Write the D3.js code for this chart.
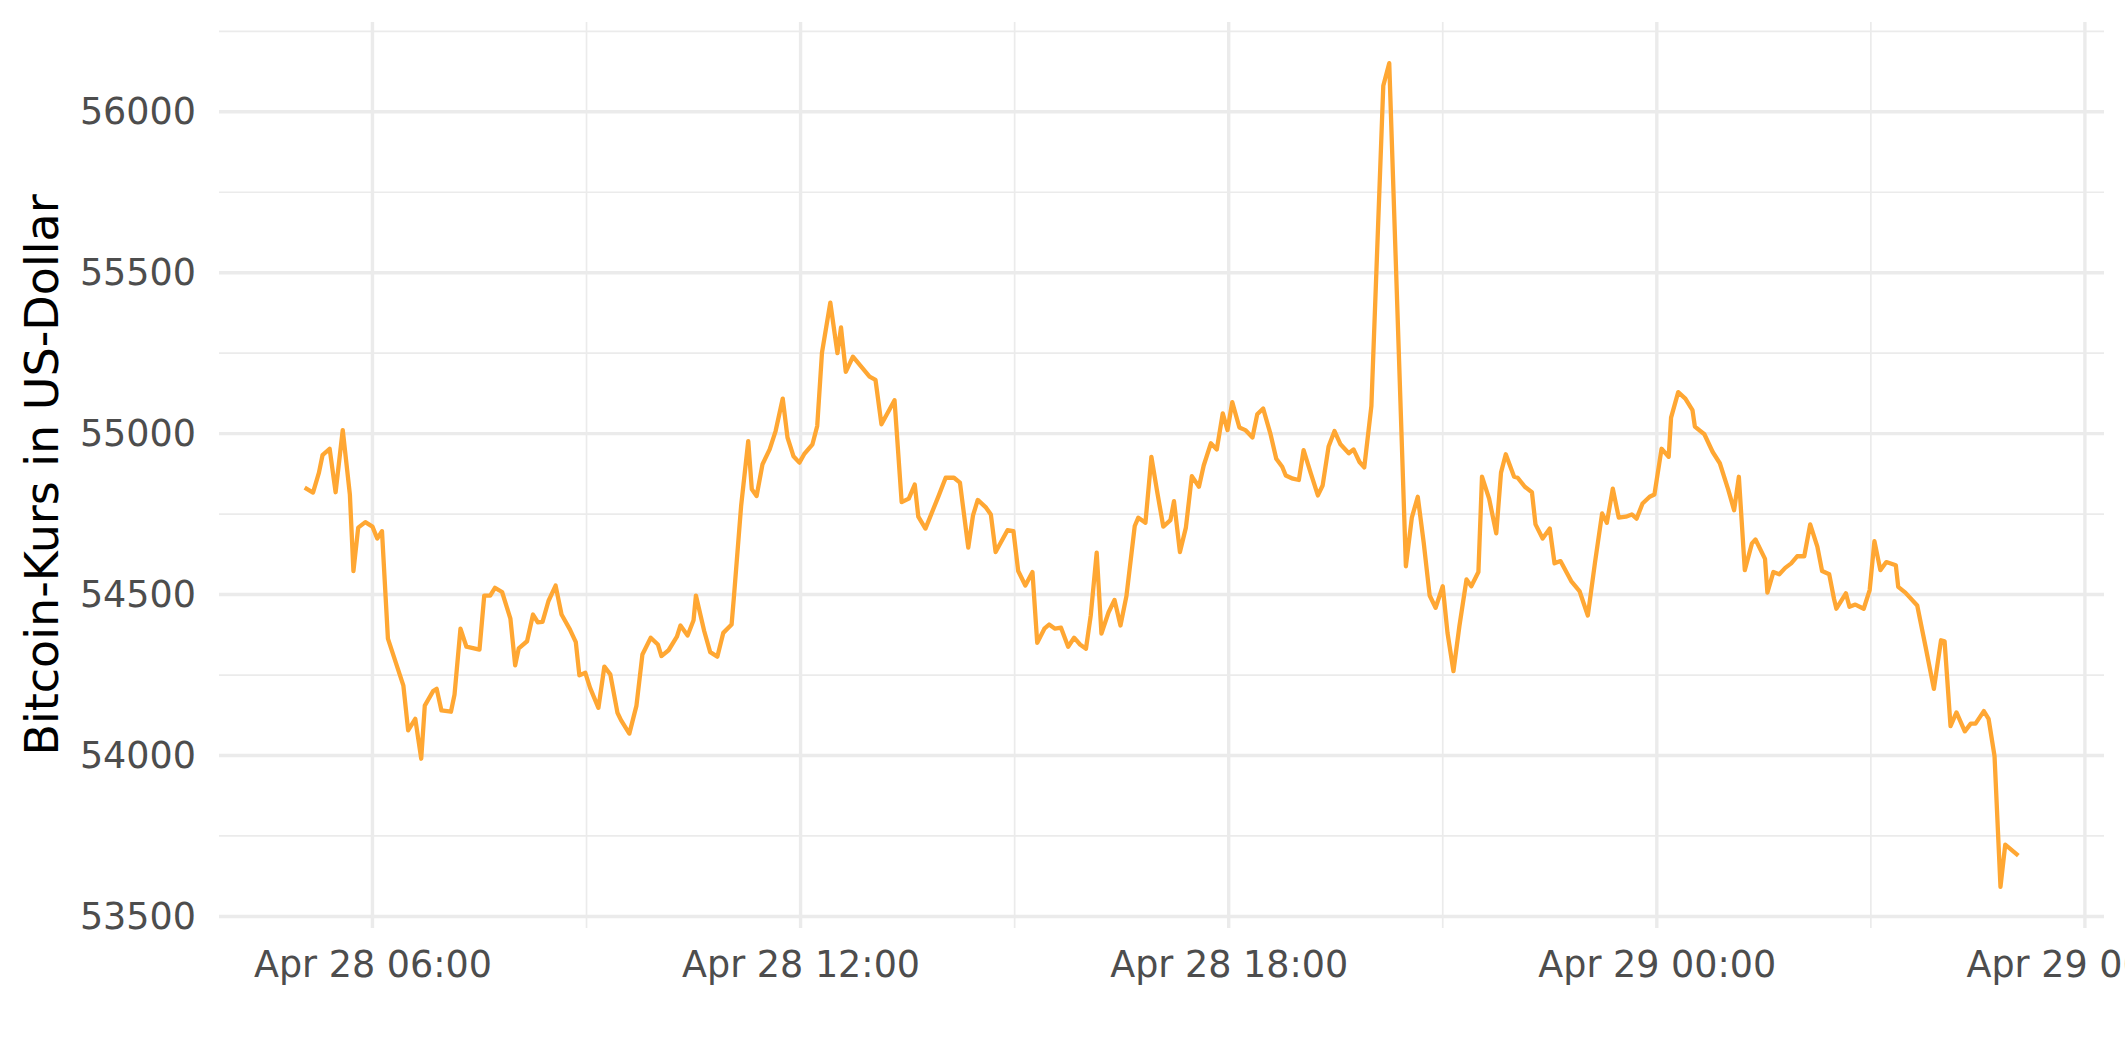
<!DOCTYPE html>
<html>
<head>
<meta charset="utf-8">
<script src="https://cdn.jsdelivr.net/npm/d3@7"></script>
<style>
  html, body { margin: 0; padding: 0; background: #ffffff; }
  svg { display: block; }
</style>
</head>
<body>
<svg id="chart" width="2125" height="1062"></svg>
<script>
// ---- data ----
const timestamps = [
"2021-04-28T05:03","2021-04-28T05:10","2021-04-28T05:15","2021-04-28T05:18","2021-04-28T05:24","2021-04-28T05:29","2021-04-28T05:35","2021-04-28T05:41","2021-04-28T05:44","2021-04-28T05:48",
"2021-04-28T05:54","2021-04-28T06:00","2021-04-28T06:04","2021-04-28T06:08","2021-04-28T06:13","2021-04-28T06:26","2021-04-28T06:30","2021-04-28T06:36","2021-04-28T06:41","2021-04-28T06:44",
"2021-04-28T06:51","2021-04-28T06:54","2021-04-28T06:58","2021-04-28T07:06","2021-04-28T07:09","2021-04-28T07:14","2021-04-28T07:19","2021-04-28T07:30","2021-04-28T07:34","2021-04-28T07:39",
"2021-04-28T07:43","2021-04-28T07:49","2021-04-28T07:56","2021-04-28T08:00","2021-04-28T08:03","2021-04-28T08:10","2021-04-28T08:15","2021-04-28T08:19","2021-04-28T08:23","2021-04-28T08:28",
"2021-04-28T08:34","2021-04-28T08:39","2021-04-28T08:46","2021-04-28T08:51","2021-04-28T08:54","2021-04-28T08:59","2021-04-28T09:03","2021-04-28T09:10","2021-04-28T09:15","2021-04-28T09:20",
"2021-04-28T09:26","2021-04-28T09:29","2021-04-28T09:36","2021-04-28T09:42","2021-04-28T09:47","2021-04-28T09:54","2021-04-28T10:00","2021-04-28T10:03","2021-04-28T10:09","2021-04-28T10:16",
"2021-04-28T10:19","2021-04-28T10:25","2021-04-28T10:30","2021-04-28T10:32","2021-04-28T10:39","2021-04-28T10:44","2021-04-28T10:50","2021-04-28T10:55","2021-04-28T11:02","2021-04-28T11:04",
"2021-04-28T11:10","2021-04-28T11:16","2021-04-28T11:19","2021-04-28T11:23","2021-04-28T11:28","2021-04-28T11:34","2021-04-28T11:39","2021-04-28T11:45","2021-04-28T11:49","2021-04-28T11:54",
"2021-04-28T11:59","2021-04-28T12:03","2021-04-28T12:10","2021-04-28T12:14","2021-04-28T12:18","2021-04-28T12:25","2021-04-28T12:31","2021-04-28T12:34","2021-04-28T12:38","2021-04-28T12:44",
"2021-04-28T12:58","2021-04-28T13:03","2021-04-28T13:08","2021-04-28T13:19","2021-04-28T13:25","2021-04-28T13:31","2021-04-28T13:36","2021-04-28T13:39","2021-04-28T13:45","2021-04-28T13:56",
"2021-04-28T14:02","2021-04-28T14:09","2021-04-28T14:14","2021-04-28T14:21","2021-04-28T14:25","2021-04-28T14:29","2021-04-28T14:36","2021-04-28T14:40","2021-04-28T14:44","2021-04-28T14:54",
"2021-04-28T14:59","2021-04-28T15:03","2021-04-28T15:09","2021-04-28T15:15","2021-04-28T15:19","2021-04-28T15:25","2021-04-28T15:29","2021-04-28T15:34","2021-04-28T15:39","2021-04-28T15:45",
"2021-04-28T15:50","2021-04-28T15:55","2021-04-28T16:00","2021-04-28T16:04","2021-04-28T16:09","2021-04-28T16:13","2021-04-28T16:19","2021-04-28T16:24","2021-04-28T16:29","2021-04-28T16:34",
"2021-04-28T16:41","2021-04-28T16:44","2021-04-28T16:50","2021-04-28T16:55","2021-04-28T17:00","2021-04-28T17:05","2021-04-28T17:11","2021-04-28T17:14","2021-04-28T17:19","2021-04-28T17:24",
"2021-04-28T17:29","2021-04-28T17:35","2021-04-28T17:39","2021-04-28T17:45","2021-04-28T17:50","2021-04-28T17:55","2021-04-28T17:59","2021-04-28T18:03","2021-04-28T18:09","2021-04-28T18:14",
"2021-04-28T18:20","2021-04-28T18:24","2021-04-28T18:29","2021-04-28T18:35","2021-04-28T18:40","2021-04-28T18:45","2021-04-28T18:48","2021-04-28T18:54","2021-04-28T18:59","2021-04-28T19:03",
"2021-04-28T19:09","2021-04-28T19:15","2021-04-28T19:19","2021-04-28T19:24","2021-04-28T19:29","2021-04-28T19:34","2021-04-28T19:41","2021-04-28T19:45","2021-04-28T19:50","2021-04-28T19:54",
"2021-04-28T20:00","2021-04-28T20:10","2021-04-28T20:15","2021-04-28T20:29","2021-04-28T20:34","2021-04-28T20:39","2021-04-28T20:44","2021-04-28T20:49","2021-04-28T20:54","2021-04-28T21:00",
"2021-04-28T21:04","2021-04-28T21:09","2021-04-28T21:14","2021-04-28T21:20","2021-04-28T21:24","2021-04-28T21:30","2021-04-28T21:33","2021-04-28T21:39","2021-04-28T21:45","2021-04-28T21:49",
"2021-04-28T21:53","2021-04-28T22:00","2021-04-28T22:03","2021-04-28T22:09","2021-04-28T22:15","2021-04-28T22:18","2021-04-28T22:24","2021-04-28T22:30","2021-04-28T22:34","2021-04-28T22:39",
"2021-04-28T22:48","2021-04-28T22:55","2021-04-28T23:02","2021-04-28T23:08","2021-04-28T23:14","2021-04-28T23:18","2021-04-28T23:23","2021-04-28T23:28","2021-04-28T23:34","2021-04-28T23:39",
"2021-04-28T23:43","2021-04-28T23:48","2021-04-28T23:54","2021-04-28T23:58","2021-04-29T00:04","2021-04-29T00:10","2021-04-29T00:12","2021-04-29T00:18","2021-04-29T00:24","2021-04-29T00:30",
"2021-04-29T00:32","2021-04-29T00:40","2021-04-29T00:47","2021-04-29T00:53","2021-04-29T01:00","2021-04-29T01:05","2021-04-29T01:09","2021-04-29T01:14","2021-04-29T01:20","2021-04-29T01:23",
"2021-04-29T01:31","2021-04-29T01:33","2021-04-29T01:38","2021-04-29T01:43","2021-04-29T01:48","2021-04-29T01:53","2021-04-29T01:58","2021-04-29T02:04","2021-04-29T02:09","2021-04-29T02:15",
"2021-04-29T02:19","2021-04-29T02:25","2021-04-29T02:29","2021-04-29T02:31","2021-04-29T02:39","2021-04-29T02:42","2021-04-29T02:47","2021-04-29T02:54","2021-04-29T02:59","2021-04-29T03:03",
"2021-04-29T03:08","2021-04-29T03:13","2021-04-29T03:21","2021-04-29T03:23","2021-04-29T03:29","2021-04-29T03:39","2021-04-29T03:46","2021-04-29T03:53","2021-04-29T03:59","2021-04-29T04:02",
"2021-04-29T04:07","2021-04-29T04:12","2021-04-29T04:19","2021-04-29T04:24","2021-04-29T04:28","2021-04-29T04:35","2021-04-29T04:39","2021-04-29T04:44","2021-04-29T04:49","2021-04-29T04:53",
"2021-04-29T05:04"
];

const prices = [
54832,54817,54879,54933,54953,54818,55011,54811,54573,54708,
54725,54711,54674,54697,54363,54217,54078,54114,53990,54155,
54200,54207,54140,54136,54189,54394,54338,54329,54497,54497,
54521,54508,54425,54280,54333,54355,54438,54414,54415,54480,
54528,54438,54392,54352,54249,54257,54210,54148,54276,54252,
54133,54110,54068,54155,54314,54366,54345,54309,54327,54369,
54404,54373,54420,54497,54386,54321,54307,54381,54407,54495,
54775,54977,54827,54806,54905,54951,55008,55109,54988,54930,
54910,54936,54967,55024,55252,55407,55250,55330,55192,55239,
55177,55167,55029,55104,54787,54798,54842,54742,54705,54806,
54863,54863,54848,54646,54746,54794,54770,54749,54632,54700,
54697,54573,54528,54570,54350,54394,54407,54394,54397,54338,
54366,54345,54332,54435,54630,54379,54445,54483,54404,54495,
54713,54739,54723,54928,54817,54711,54731,54790,54632,54708,
54868,54835,54901,54970,54951,55063,55011,55098,55019,55011,
54988,55060,55078,55001,54922,54897,54870,54860,54856,54949,
54877,54808,54839,54960,55008,54967,54939,54951,54912,54895,
55086,56081,56151,54588,54739,54804,54661,54497,54459,54526,
54381,54262,54402,54547,54526,54570,54866,54798,54690,54879,
54936,54866,54863,54835,54818,54718,54674,54705,54597,54604,
54542,54511,54435,54599,54752,54723,54829,54739,54742,54749,
54736,54783,54804,54811,54953,54928,55050,55129,55109,55073,
55022,54998,54943,54908,54827,54762,54866,54576,54659,54671,
54611,54506,54570,54563,54583,54597,54619,54619,54718,54649,
54573,54563,54487,54456,54504,54462,54469,54456,54514,54666,
54576,54601,54591,54524,54506,54466,54338,54207,54358,54355,
54091,54134,54075,54099,54099,54138,54114,53998,53592,53723,
53689
];

const yMajorTicks = [53500, 54000, 54500, 55000, 55500, 56000];
const yMinorTicks = [53750, 54250, 54750, 55250, 55750, 56250];
const xMajorTicks = ["2021-04-28T06:00", "2021-04-28T12:00", "2021-04-28T18:00", "2021-04-29T00:00", "2021-04-29T06:00"];
const xMinorTicks = ["2021-04-28T09:00", "2021-04-28T15:00", "2021-04-28T21:00", "2021-04-29T03:00"];
const yTitle = "Bitcoin-Kurs in US-Dollar";

// ---- build ----
const parse = d3.utcParse("%Y-%m-%dT%H:%M");
const data = timestamps.map((t, i) => ({ t: parse(t), v: prices[i] }));

const panel = { left: 219, right: 2104, top: 22, bottom: 928 };

function expand(ext, f) {
  const span = ext[1] - ext[0];
  return [ext[0] - span * f, ext[1] + span * f];
}
const tExt = d3.extent(data, d => +d.t);
const vExt = d3.extent(data, d => d.v);
const tDom = expand(tExt, 0.05);

const x = d3.scaleUtc()
  .domain([new Date(tDom[0]), new Date(tDom[1])])
  .range([panel.left, panel.right]);
const y = d3.scaleLinear()
  .domain(expand(vExt, 0.05))
  .range([panel.bottom, panel.top]);

const svg = d3.select("#chart");
svg.append("rect").attr("width", 2125).attr("height", 1062).attr("fill", "#ffffff");

const grid = svg.append("g").attr("stroke", "#EBEBEB").attr("fill", "none");

// minor grid
grid.selectAll("line.ymin").data(yMinorTicks).join("line")
  .attr("x1", panel.left).attr("x2", panel.right)
  .attr("y1", d => y(d)).attr("y2", d => y(d))
  .attr("stroke-width", 1.7);
grid.selectAll("line.xmin").data(xMinorTicks.map(parse)).join("line")
  .attr("x1", d => x(d)).attr("x2", d => x(d))
  .attr("y1", panel.top).attr("y2", panel.bottom)
  .attr("stroke-width", 1.7);
// major grid
grid.selectAll("line.ymaj").data(yMajorTicks).join("line")
  .attr("x1", panel.left).attr("x2", panel.right)
  .attr("y1", d => y(d)).attr("y2", d => y(d))
  .attr("stroke-width", 3.4);
grid.selectAll("line.xmaj").data(xMajorTicks.map(parse)).join("line")
  .attr("x1", d => x(d)).attr("x2", d => x(d))
  .attr("y1", panel.top).attr("y2", panel.bottom)
  .attr("stroke-width", 3.4);

// line
const line = d3.line().x(d => x(d.t)).y(d => y(d.v));
svg.append("path")
  .datum(data)
  .attr("d", line)
  .attr("fill", "none")
  .attr("stroke", "#FFA733")
  .attr("stroke-width", 4.3)
  .attr("stroke-linejoin", "round")
  .attr("stroke-linecap", "butt");

// axes
const fontFam = "'DejaVu Sans', sans-serif";
const xAxis = d3.axisBottom(x)
  .tickValues(xMajorTicks.map(parse))
  .tickFormat(d3.utcFormat("%b %d %H:%M"))
  .tickSize(0).tickPadding(23);
const gx = svg.append("g").attr("transform", `translate(0,${panel.bottom})`).call(xAxis);
gx.select(".domain").remove();
gx.selectAll("text").attr("font-family", fontFam).attr("font-size", 36.5).attr("fill", "#4D4D4D");

const yAxis = d3.axisLeft(y)
  .tickValues(yMajorTicks)
  .tickFormat(d3.format("d"))
  .tickSize(0).tickPadding(23);
const gy = svg.append("g").attr("transform", `translate(${panel.left},0)`).call(yAxis);
gy.select(".domain").remove();
gy.selectAll("text").attr("font-family", fontFam).attr("font-size", 36.5).attr("fill", "#4D4D4D");

// y title
svg.append("text")
  .attr("transform", `translate(58,${(panel.top + panel.bottom) / 2}) rotate(-90)`)
  .attr("text-anchor", "middle")
  .attr("font-family", fontFam)
  .attr("font-size", 46)
  .attr("fill", "#000000")
  .text(yTitle);
</script>
</body>
</html>
